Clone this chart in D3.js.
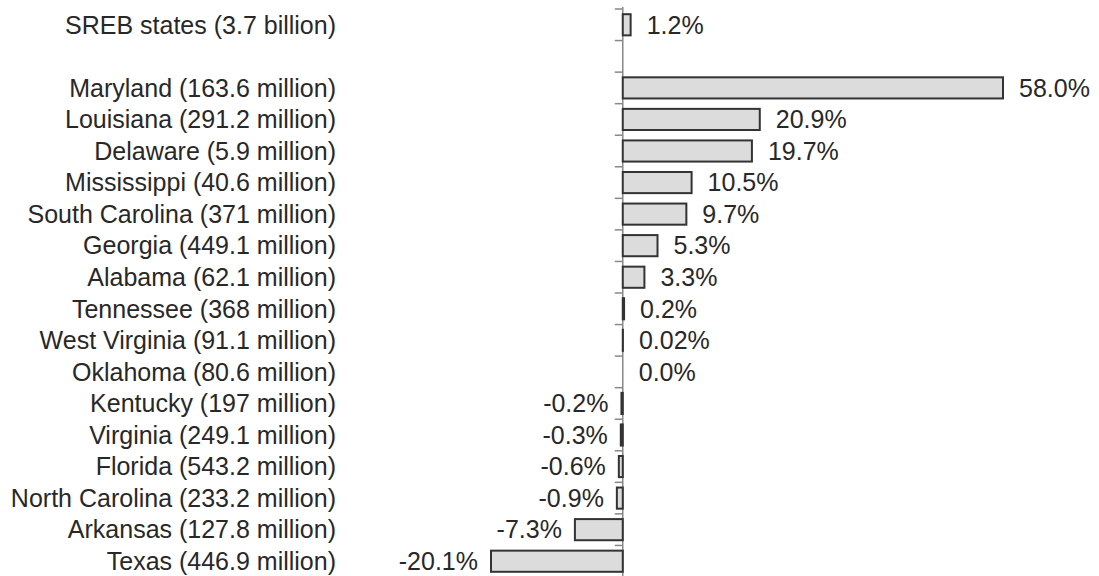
<!DOCTYPE html>
<html>
<head>
<meta charset="utf-8">
<script src="https://cdn.jsdelivr.net/npm/d3@7"></script>
<style>
  body { margin: 0; background: #fff; }
  svg text { font-family: "Liberation Sans", Arial, sans-serif; font-size: 25px; fill: #282828; }
</style>
</head>
<body>
<svg id="chart" width="1099" height="576"></svg>
<script>
// rows, top to bottom; the empty entry is the spacer under the SREB row
var labels = [
    'SREB states (3.7 billion)', '',
    'Maryland (163.6 million)', 'Louisiana (291.2 million)', 'Delaware (5.9 million)',
    'Mississippi (40.6 million)', 'South Carolina (371 million)', 'Georgia (449.1 million)',
    'Alabama (62.1 million)', 'Tennessee (368 million)', 'West Virginia (91.1 million)',
    'Oklahoma (80.6 million)', 'Kentucky (197 million)', 'Virginia (249.1 million)',
    'Florida (543.2 million)', 'North Carolina (233.2 million)', 'Arkansas (127.8 million)',
    'Texas (446.9 million)'
];
var values = [1.2, null, 58.0, 20.9, 19.7, 10.5, 9.7, 5.3, 3.3, 0.2, 0.02, 0.0,
    -0.2, -0.3, -0.6, -0.9, -7.3, -20.1];
var valueText = ['1.2%', '', '58.0%', '20.9%', '19.7%', '10.5%', '9.7%', '5.3%', '3.3%',
    '0.2%', '0.02%', '0.0%', '-0.2%', '-0.3%', '-0.6%', '-0.9%', '-7.3%', '-20.1%'];

var svg = d3.select('#chart');
var rows = labels.map(function(d, i) { return { key: i, label: d, value: values[i], text: valueText[i] }; });

var x = d3.scaleLinear().domain([-20.1, 58.0]).range([491, 1003]);
var y = d3.scaleBand().domain(rows.map(function(d) { return d.key; })).range([9, 577]).paddingInner(0.33).paddingOuter(0.165);
var step = y.step();
var top0 = 9;

// axis line and ticks on the category boundaries
var axis = svg.append('g').attr('class', 'axis');
axis.append('line')
    .attr('x1', x(0)).attr('x2', x(0))
    .attr('y1', 7).attr('y2', 577)
    .attr('stroke', '#888').attr('stroke-width', 1.5);
axis.selectAll('.tick').data(d3.range(labels.length + 1)).enter().append('line')
    .attr('class', 'tick')
    .attr('x1', x(0) - 8).attr('x2', x(0))
    .attr('y1', function(d) { return top0 + d * step; })
    .attr('y2', function(d) { return top0 + d * step; })
    .attr('stroke', '#888').attr('stroke-width', 1.5);

var data = rows.filter(function(d) { return d.value !== null; });

svg.append('g').selectAll('rect').data(data.filter(function(d) { return d.value !== 0; })).enter().append('rect')
    .attr('x', function(d) { return x(Math.min(0, d.value)); })
    .attr('y', function(d) { return y(d.key); })
    .attr('width', function(d) { return Math.abs(x(d.value) - x(0)); })
    .attr('height', y.bandwidth())
    .attr('fill', '#dcdcdc')
    .attr('stroke', '#333')
    .attr('stroke-width', 2);

svg.append('g').selectAll('text').data(data).enter().append('text')
    .attr('x', function(d) { return d.value < 0 ? x(d.value) - 13 : x(d.value) + 16; })
    .attr('y', function(d) { return y(d.key) + y.bandwidth() / 2; })
    .attr('dy', '0.35em')
    .attr('text-anchor', function(d) { return d.value < 0 ? 'end' : 'start'; })
    .text(function(d) { return d.text; });

svg.append('g').selectAll('text').data(data).enter().append('text')
    .attr('x', 336)
    .attr('y', function(d) { return y(d.key) + y.bandwidth() / 2; })
    .attr('dy', '0.35em')
    .attr('text-anchor', 'end')
    .text(function(d) { return d.label; });
</script>
</body>
</html>
